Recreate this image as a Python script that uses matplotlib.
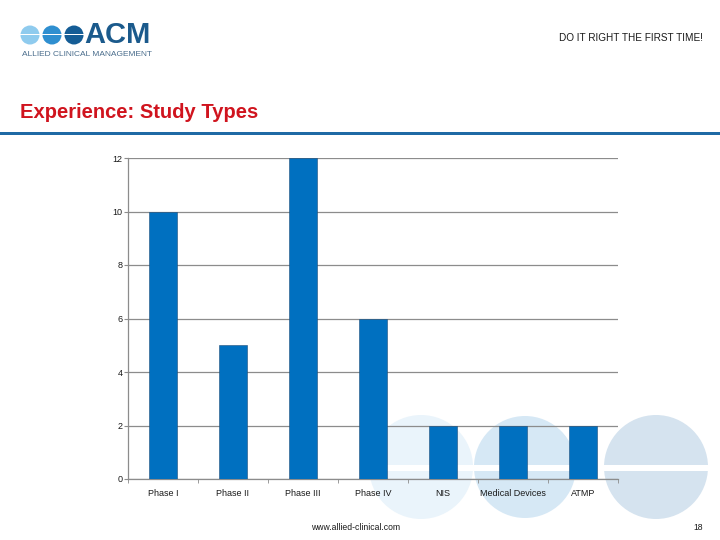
import matplotlib
matplotlib.use("Agg")
import matplotlib.pyplot as plt
from matplotlib.patches import Circle, Rectangle

plt.rcParams.update({"font.family": ["Liberation Sans", "DejaVu Sans"]})

categories = ["Phase I", "Phase II", "Phase III", "Phase IV", "NIS", "Medical Devices", "ATMP"]
counts = [10, 5, 12, 6, 2, 2, 2]
y_ticks = [0, 2, 4, 6, 8, 10, 12]

BAR = "#0070c0"
GRID = "#8c8c8c"
INK = "#1a1a1a"
RED = "#d0141e"
LINE = "#1f6aa5"

W, H = 720, 540
fig = plt.figure(figsize=(7.2, 5.4), dpi=100)

# background layer in pixel coordinates
bg = fig.add_axes([0, 0, 1, 1])
bg.set_xlim(0, W); bg.set_ylim(H, 0); bg.axis("off")

# decorative circles behind the chart
for cx, cy, r, fc in [(421, 467, 52, "#eaf4fb"), (525, 467, 51, "#d6e8f5"), (656, 467, 52, "#d5e3ef")]:
    bg.add_patch(Circle((cx, cy), r, facecolor=fc, edgecolor="none", zorder=0))
bg.add_patch(Rectangle((360, 465), 360, 6, facecolor="white", edgecolor="none", zorder=1))

# logo
for cx, fc in [(30, "#8fcbee"), (52, "#2f8fd0"), (74, "#155d96")]:
    bg.add_patch(Circle((cx, 35), 9.5, facecolor=fc, edgecolor="none", zorder=2))
bg.add_patch(Rectangle((18, 34.4), 70, 1.0, facecolor="white", edgecolor="none", zorder=3))
bg.text(84, 35, "ACM", fontsize=21, fontweight="bold", color="#1b5a8c",
        ha="left", va="center", zorder=4)
bg.text(22, 55, "ALLIED CLINICAL MANAGEMENT", fontsize=6.0, color="#4a6d8c",
        ha="left", va="center")

bg.text(703, 38, "DO IT RIGHT THE FIRST TIME!", fontsize=7.2, color=INK,
        ha="right", va="center")
bg.text(20, 113, "Experience: Study Types", fontsize=14.5, fontweight="bold", color=RED,
        ha="left", va="center")
bg.add_patch(Rectangle((0, 131.5), W, 3, facecolor=LINE, edgecolor="none"))

bg.text(356, 527, "www.allied-clinical.com", fontsize=6.2, color=INK, ha="center", va="center")
bg.text(703, 527, "18", fontsize=6.2, color=INK, ha="right", va="center")

# chart
ax = fig.add_axes([128 / W, 61 / H, 490 / W, 321 / H])
ax.set_facecolor("none")
x = range(len(categories))
ax.bar(x, counts, width=0.4, color=BAR, edgecolor="#1f4e79", linewidth=0.4, zorder=3)
ax.set_xlim(-0.5, len(categories) - 0.5)
ax.set_ylim(0, 12)
ax.set_yticks(y_ticks)
ax.yaxis.grid(True, color=GRID, linewidth=0.9, zorder=1)
ax.set_xticks(list(x))
ax.set_xticklabels(categories, fontsize=6.5, color=INK)
ax.tick_params(axis="x", length=0, pad=7)
ax.set_xticks([i - 0.5 for i in range(len(categories) + 1)], minor=True)
ax.tick_params(axis="x", which="minor", length=3, color=GRID, direction="out")
ax.tick_params(axis="y", length=3, color=GRID, labelsize=6.5, labelcolor=INK, pad=1)
for s in ["top", "right"]:
    ax.spines[s].set_visible(False)
for s in ["left", "bottom"]:
    ax.spines[s].set_color(GRID)
    ax.spines[s].set_linewidth(0.9)

fig.savefig("out.png", dpi=100)
